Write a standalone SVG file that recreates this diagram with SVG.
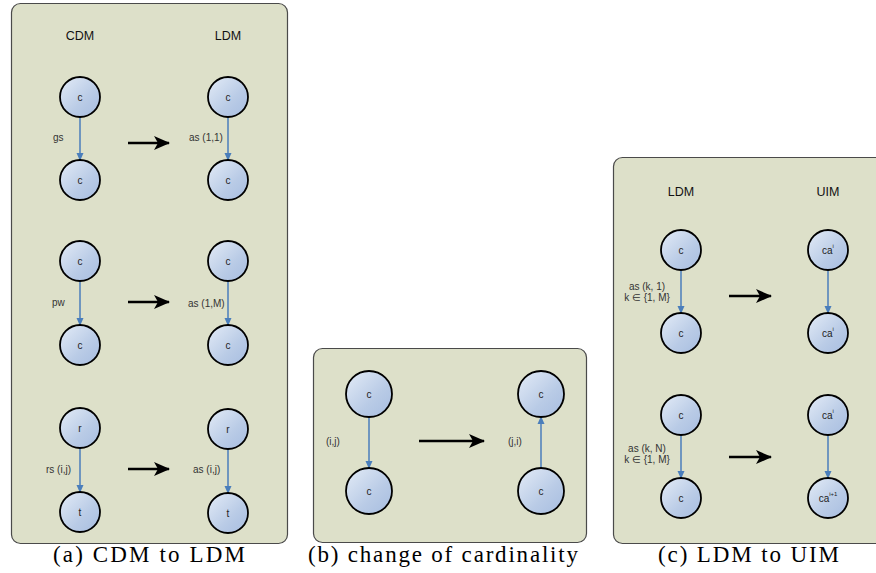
<svg xmlns="http://www.w3.org/2000/svg" width="876" height="573" viewBox="0 0 876 573">
<defs>
<linearGradient id="ng" x1="0" y1="0" x2="1" y2="1">
<stop offset="0" stop-color="#e4ecf7"/>
<stop offset="0.6" stop-color="#b9cbe6"/>
<stop offset="1" stop-color="#a7bde0"/>
</linearGradient>
<marker id="bh" markerWidth="8" markerHeight="8" refX="7" refY="4" orient="auto" markerUnits="userSpaceOnUse">
<path d="M0,0.5 L8,4 L0,7.5 Z" fill="#4a7ebb"/>
</marker>
<marker id="kh" markerWidth="16" markerHeight="14" refX="15" refY="7" orient="auto" markerUnits="userSpaceOnUse">
<path d="M0,0 L16,7 L0,14 L4,7 Z" fill="#000"/>
</marker>
</defs>
<style>
.panel{fill:#dde0c9;stroke:#4a4a4a;stroke-width:1.2}
.node{fill:url(#ng);stroke:#000;stroke-width:1.8}
.nt{font-family:"Liberation Sans",Arial,sans-serif;font-size:10px;fill:#222;text-anchor:middle;dominant-baseline:central}
.hd{font-family:"Liberation Sans",Arial,sans-serif;font-size:12.5px;fill:#111;text-anchor:middle;dominant-baseline:central}
.lb{font-family:"Liberation Sans",Arial,sans-serif;font-size:10px;fill:#333;dominant-baseline:central}
.lbc{font-family:"Liberation Sans",Arial,sans-serif;font-size:10px;fill:#333;text-anchor:middle;dominant-baseline:central}
.cap{font-family:"Liberation Serif","Times New Roman",serif;font-size:23px;fill:#000}
.be{stroke:#4a7ebb;stroke-width:1.5;fill:none;marker-end:url(#bh)}
.ke{stroke:#000;stroke-width:2.5;fill:none;marker-end:url(#kh)}
</style>

<g id="panels">
<rect class="panel" x="11.5" y="3.5" width="276" height="540" rx="9"/>
<rect class="panel" x="313.5" y="348.5" width="273" height="194" rx="9"/>
<rect class="panel" x="613.5" y="157.5" width="275" height="386" rx="9"/>
</g>

<g id="headers">
<text class="hd" x="80" y="36">CDM</text>
<text class="hd" x="228" y="36">LDM</text>
<text class="hd" x="681" y="192">LDM</text>
<text class="hd" x="828" y="192">UIM</text>
</g>

<g id="connectors">
<line class="be" x1="80" y1="117" x2="80" y2="160"/>
<line class="be" x1="228" y1="117" x2="228" y2="160"/>
<line class="be" x1="80" y1="281" x2="80" y2="325"/>
<line class="be" x1="228" y1="281" x2="228" y2="325"/>
<line class="be" x1="80" y1="448" x2="80" y2="492"/>
<line class="be" x1="228" y1="449" x2="228" y2="493"/>
<line class="be" x1="369" y1="417" x2="369" y2="468"/>
<line class="be" x1="541" y1="468" x2="541" y2="417"/>
<line class="be" x1="681" y1="270" x2="681" y2="313"/>
<line class="be" x1="828" y1="270" x2="828" y2="313"/>
<line class="be" x1="681" y1="435" x2="681" y2="478"/>
<line class="be" x1="828" y1="435" x2="828" y2="478"/>
<line class="ke" x1="128" y1="143" x2="169" y2="143"/>
<line class="ke" x1="128" y1="302" x2="169" y2="302"/>
<line class="ke" x1="128" y1="469" x2="169" y2="469"/>
<line class="ke" x1="419" y1="441" x2="484" y2="441"/>
<line class="ke" x1="729" y1="296" x2="771" y2="296"/>
<line class="ke" x1="729" y1="457" x2="771" y2="457"/>
</g>

<g id="edge-labels">
<text class="lb" x="53" y="137">gs</text>
<text class="lb" x="189" y="137">as (1,1)</text>
<text class="lb" x="52" y="302">pw</text>
<text class="lb" x="188" y="303">as (1,M)</text>
<text class="lb" x="46" y="469">rs (i,j)</text>
<text class="lb" x="193" y="469">as (i,j)</text>
<text class="lb" x="326" y="441">(i,j)</text>
<text class="lb" x="508" y="441">(j,i)</text>
<text class="lbc" x="647" y="286">as (k, 1)</text>
<text class="lbc" x="647" y="297">k ∈ {1, M}</text>
<text class="lbc" x="647" y="448">as (k, N)</text>
<text class="lbc" x="647" y="459">k ∈ {1, M}</text>
</g>

<g id="a-cdm-c1"><circle class="node" cx="80" cy="97" r="20"/><text class="nt" x="80" y="97">c</text></g>
<g id="a-cdm-c2"><circle class="node" cx="80" cy="180" r="20"/><text class="nt" x="80" y="180">c</text></g>
<g id="a-ldm-c1"><circle class="node" cx="228" cy="97" r="20"/><text class="nt" x="228" y="97">c</text></g>
<g id="a-ldm-c2"><circle class="node" cx="228" cy="180" r="20"/><text class="nt" x="228" y="180">c</text></g>
<g id="a-cdm-c3"><circle class="node" cx="80" cy="261" r="20"/><text class="nt" x="80" y="261">c</text></g>
<g id="a-cdm-c4"><circle class="node" cx="80" cy="345" r="20"/><text class="nt" x="80" y="345">c</text></g>
<g id="a-ldm-c3"><circle class="node" cx="228" cy="261" r="20"/><text class="nt" x="228" y="261">c</text></g>
<g id="a-ldm-c4"><circle class="node" cx="228" cy="345" r="20"/><text class="nt" x="228" y="345">c</text></g>
<g id="a-cdm-r"><circle class="node" cx="80" cy="428" r="20"/><text class="nt" x="80" y="428">r</text></g>
<g id="a-cdm-t"><circle class="node" cx="80" cy="512" r="20"/><text class="nt" x="80" y="512">t</text></g>
<g id="a-ldm-r"><circle class="node" cx="228" cy="429" r="20"/><text class="nt" x="228" y="429">r</text></g>
<g id="a-ldm-t"><circle class="node" cx="228" cy="513" r="20"/><text class="nt" x="228" y="513">t</text></g>

<g id="b-c1"><circle class="node" cx="369" cy="394" r="23"/><text class="nt" x="369" y="394">c</text></g>
<g id="b-c2"><circle class="node" cx="369" cy="491" r="23"/><text class="nt" x="369" y="491">c</text></g>
<g id="b-c3"><circle class="node" cx="541" cy="394" r="23"/><text class="nt" x="541" y="394">c</text></g>
<g id="b-c4"><circle class="node" cx="541" cy="491" r="23"/><text class="nt" x="541" y="491">c</text></g>

<g id="c-ldm-c1"><circle class="node" cx="681" cy="250" r="20"/><text class="nt" x="681" y="250">c</text></g>
<g id="c-ldm-c2"><circle class="node" cx="681" cy="333" r="20"/><text class="nt" x="681" y="333">c</text></g>
<g id="c-uim-ca1"><circle class="node" cx="828" cy="250" r="20"/><text class="nt" x="828" y="250">ca<tspan font-size="6" dy="-4">i</tspan></text></g>
<g id="c-uim-ca2"><circle class="node" cx="828" cy="333" r="20"/><text class="nt" x="828" y="333">ca<tspan font-size="6" dy="-4">i</tspan></text></g>
<g id="c-ldm-c3"><circle class="node" cx="681" cy="415" r="20"/><text class="nt" x="681" y="415">c</text></g>
<g id="c-ldm-c4"><circle class="node" cx="681" cy="498" r="20"/><text class="nt" x="681" y="498">c</text></g>
<g id="c-uim-ca3"><circle class="node" cx="828" cy="415" r="20"/><text class="nt" x="828" y="415">ca<tspan font-size="6" dy="-4">i</tspan></text></g>
<g id="c-uim-ca4"><circle class="node" cx="828" cy="498" r="20"/><text class="nt" x="828" y="498">ca<tspan font-size="6" dy="-4">i+1</tspan></text></g>

<g id="captions">
<text class="cap" x="53" y="562" textLength="192" lengthAdjust="spacing">(a) CDM to LDM</text>
<text class="cap" x="308" y="562" textLength="270" lengthAdjust="spacing">(b) change of cardinality</text>
<text class="cap" x="658" y="562" textLength="181" lengthAdjust="spacing">(c) LDM to UIM</text>
</g>
</svg>
